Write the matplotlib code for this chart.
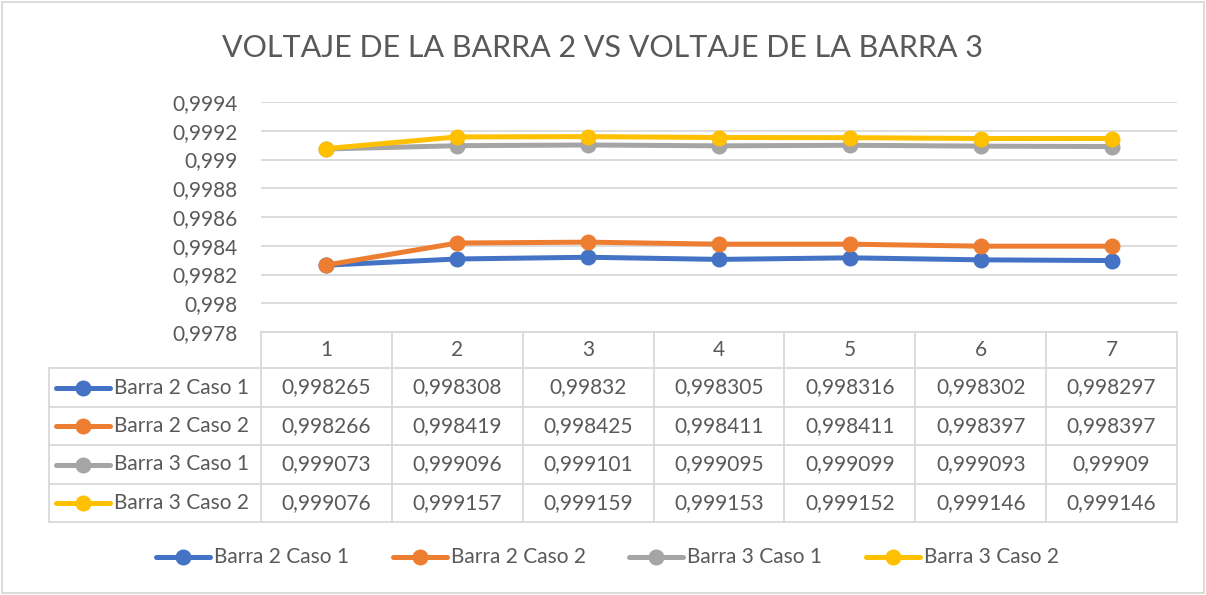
import matplotlib.pyplot as plt
from matplotlib.lines import Line2D
from matplotlib.patches import Rectangle
from matplotlib.ticker import FuncFormatter

plt.rcParams['font.family'] = ['Lato', 'DejaVu Sans']

categories = [1, 2, 3, 4, 5, 6, 7]
series_names = ['Barra 2 Caso 1', 'Barra 2 Caso 2', 'Barra 3 Caso 1', 'Barra 3 Caso 2']
barra2_caso1 = [0.998265, 0.998308, 0.99832, 0.998305, 0.998316, 0.998302, 0.998297]
barra2_caso2 = [0.998266, 0.998419, 0.998425, 0.998411, 0.998411, 0.998397, 0.998397]
barra3_caso1 = [0.999073, 0.999096, 0.999101, 0.999095, 0.999099, 0.999093, 0.99909]
barra3_caso2 = [0.999076, 0.999157, 0.999159, 0.999153, 0.999152, 0.999146, 0.999146]
yticks = [0.9978, 0.998, 0.9982, 0.9984, 0.9986, 0.9988, 0.999, 0.9992, 0.9994]

series = [barra2_caso1, barra2_caso2, barra3_caso1, barra3_caso2]
colors = ['#4472C4', '#ED7D31', '#A5A5A5', '#FFC000']
txt = '#595959'
grid = '#D9D9D9'
fs = 15

W, H = 1206, 595
fig = plt.figure(figsize=(W / 100, H / 100), dpi=100)


def fx(px):
    return px / W


def fy(py):
    return 1 - py / H


def comma(v, nd):
    return f"{v:.{nd}f}".rstrip('0').replace('.', ',')


# plot area in pixels
L, R, T, B = 261, 1177, 102, 332
ax = fig.add_axes([fx(L), fy(B), fx(R) - fx(L), fy(T) - fy(B)])
for vals, c in zip(series, colors):
    ax.plot(categories, vals, color=c, lw=3.6, marker='o', ms=10.5,
            solid_capstyle='round', zorder=3)
ax.set_xlim(0.5, 7.5)
ax.set_ylim(0.9978, 0.9994)
ax.set_yticks(yticks)
ax.yaxis.set_major_formatter(FuncFormatter(lambda v, p: comma(v, 4)))
ax.tick_params(axis='y', length=0, pad=17, labelsize=fs, labelcolor=txt)
ax.set_xticks([])
ax.grid(axis='y', color=grid, lw=1.3)
for s in ax.spines.values():
    s.set_visible(False)

fig.text(0.5, fy(48), 'VOLTAJE DE LA BARRA 2 VS VOLTAJE DE LA BARRA 3',
         ha='center', va='center', fontsize=22, color=txt)

# data table under the plot
rows = [332, 368, 407, 445, 484, 522]
col_w = (R - L) / len(categories)
cols = [L + i * col_w for i in range(len(categories) + 1)]
tl = 49


def hline(x0, x1, y):
    fig.add_artist(Line2D([fx(x0), fx(x1)], [fy(y), fy(y)], color=grid, lw=1.3))


def vline(x, y0, y1):
    fig.add_artist(Line2D([fx(x), fx(x)], [fy(y0), fy(y1)], color=grid, lw=1.3))


hline(L, R, rows[0])
for y in rows[1:]:
    hline(tl, R, y)
for x in cols:
    vline(x, rows[0], rows[-1])
vline(tl, rows[1], rows[-1])

for i, c in enumerate(categories):
    xc = fx(cols[i] + col_w / 2)
    fig.text(xc, fy((rows[0] + rows[1]) / 2), str(c), ha='center', va='center',
             fontsize=fs, color=txt)
    for j, vals in enumerate(series):
        fig.text(xc, fy((rows[j + 1] + rows[j + 2]) / 2), comma(vals[i], 6),
                 ha='center', va='center', fontsize=fs, color=txt)


def key(x0, y, c, name):
    fig.add_artist(Line2D([fx(x0), fx(x0 + 54)], [fy(y), fy(y)], color=c, lw=3.6,
                          solid_capstyle='round'))
    fig.add_artist(Line2D([fx(x0 + 27)], [fy(y)], color=c, marker='o', ms=10.5))
    fig.text(fx(x0 + 58), fy(y), name, ha='left', va='center', fontsize=fs, color=txt)


for j, (name, c) in enumerate(zip(series_names, colors)):
    key(56, (rows[j + 1] + rows[j + 2]) / 2, c, name)

# legend below the table
for name, c, x0 in zip(series_names, colors, [156, 393, 629, 866]):
    key(x0, 557, c, name)

fig.add_artist(Rectangle((fx(2), fy(593)), fx(W - 4), fy(2) - fy(593),
                         fill=False, edgecolor=grid, lw=1.3))

fig.savefig('out.png', dpi=100)
